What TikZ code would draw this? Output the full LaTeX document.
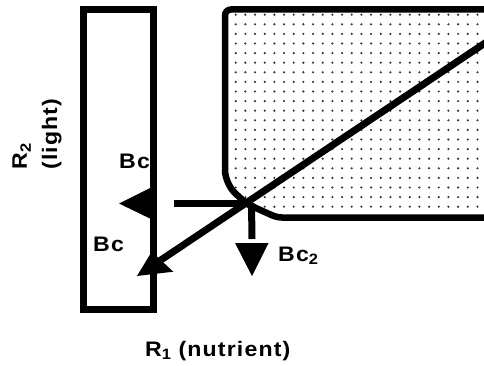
\documentclass[tikz,border=0pt]{standalone}
\usepackage{graphicx}
\usepackage{fontspec}
\setmainfont{Liberation Sans}
\newfontfamily\lblfont[LetterSpace=5]{Liberation Sans}
\usetikzlibrary{calc}
\newcommand\mysub[1]{\raisebox{-0.35ex}{\fontsize{15}{15}\selectfont #1}}
\newcommand\wide[1]{\scalebox{1.1}[1]{#1}}
\tikzset{
  lbl/.style={font=\lblfont\fontsize{21}{30}\selectfont\bfseries, inner sep=0pt},
  thick line/.style={line width=7pt},
  dot/.style={fill=black!80},
  head/.style={fill=black}
}
\begin{document}
\begin{tikzpicture}[x=1pt,y=-1pt]
\useasboundingbox (0,0) rectangle (484,366);
% dotted region
\begin{scope}
\clip (495,9.5) [rounded corners=6pt] -- (225,9.5) [rounded corners=14pt] -- (225,184) [sharp corners] -- (247,204) [rounded corners=5pt] -- (277,217.5) -- (495,217.5) -- cycle;
\foreach \i in {0,...,26}{
  \foreach \j in {0,...,20}{
    \fill[dot] (235.7+9.67*\i, 14.7+9.6*\j) circle (1.2pt);
  }
}
\end{scope}
\draw[line width=6.5pt] (495,9.5) [rounded corners=6pt] -- (225,9.5) [rounded corners=14pt] -- (225,184) [sharp corners] -- (247,204) [rounded corners=5pt] -- (277,217.5) -- (495,217.5);
% left rectangle
\draw[thick line] (83.5,9.5) rectangle (153.5,309.5);
% connectors
\coordinate (X) at (248,203.5);
\coordinate (TR) at (500,33);
\coordinate (Hs) at (174,203.5);
\coordinate (Ve) at (252,239);
\coordinate (Dtip) at (137,276);
\draw[thick line] (X) -- (Hs);
\draw[thick line] (251.5,203.5) -- (Ve);
\draw[thick line] (TR) -- ($(Dtip)!26pt!(TR)$);
% arrowheads
\fill[head] (119,203.5) -- (153,186.5) -- (153,220) -- cycle;
\fill[head] (252,276) -- (235,243) -- (268.5,243) -- cycle;
\fill[head] (Dtip) -- (151.7,251.7) -- (173.3,271.7) -- cycle;
% labels
\node[lbl, anchor=base west] (bc1) at (119,168.5) {\wide{Bc}};
\node[lbl, anchor=base west] (bc2) at (93,251) {\wide{Bc}};
\node[lbl, anchor=base west] (bc3) at (278,261) {\wide{Bc\mysub{2}}};
\node[lbl, anchor=base west] (r1) at (145,356) {\wide{R\mysub{1} (nutrient)}};
\node[lbl, rotate=90, anchor=center, align=left] (r2) at (37,134) {\wide{R\mysub{2}}\\\wide{(light)}};
\end{tikzpicture}
\end{document}
